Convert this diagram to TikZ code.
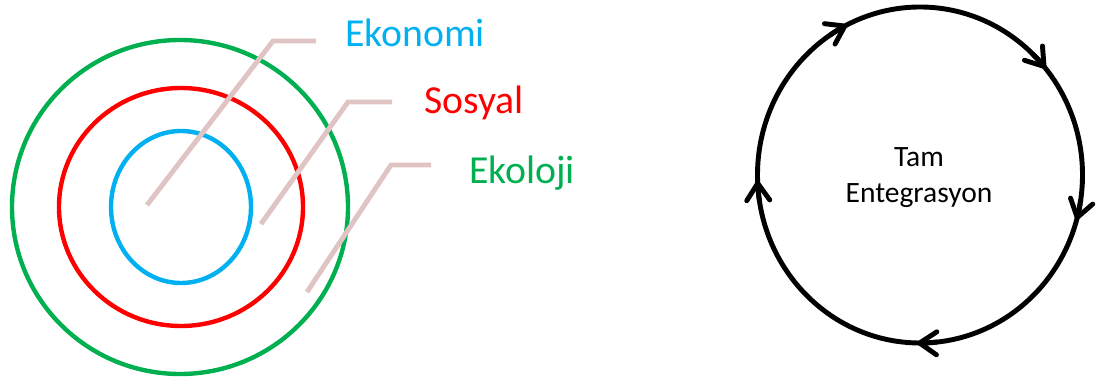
\documentclass[tikz,border=0pt]{standalone}
\usepackage{fontspec}
\setmainfont{Carlito}
\usepackage{tikz}
\usetikzlibrary{arrows.meta}

\definecolor{ekonomi}{RGB}{0,176,240}
\definecolor{sosyal}{RGB}{255,0,0}
\definecolor{ekoloji}{RGB}{0,176,80}
\definecolor{leader}{RGB}{223,196,195}

\begin{document}
\begin{tikzpicture}[x=0.02cm, y=0.02cm,
    ring/.style={line width=2.5pt},
    callout/.style={draw=leader, line width=2.8pt},
    label/.style={inner sep=0pt, anchor=base west, font=\fontsize{22.6}{26}\selectfont},
    cycle/.style={draw=black, line width=2.8pt},
    tip/.style={line width=2.8pt, -{Straight Barb[length=3.4mm, width=4.6mm, round]}}]
    \useasboundingbox (0,0) rectangle (1103,378);

    % three nested rings
    \draw[ring, ekoloji] (180,171) ellipse [x radius=168, y radius=167];
    \draw[ring, sosyal] (181,171) ellipse [x radius=122, y radius=119];
    \draw[ring, ekonomi] (181,171) ellipse [x radius=70, y radius=76];

    \coordinate (e1) at (147,173);
    \coordinate (e2) at (273,337);
    \coordinate (e3) at (316,337);
    \coordinate (s1) at (261,154);
    \coordinate (s2) at (348,276);
    \coordinate (s3) at (392,276);
    \coordinate (k1) at (307,86);
    \coordinate (k2) at (391,213);
    \coordinate (k3) at (431,213);
    \draw[callout] (e1) -- (e2) -- (e3);
    \draw[callout] (s1) -- (s2) -- (s3);
    \draw[callout] (k1) -- (k2) -- (k3);

    \node[label, text=ekonomi] (ekonomi) at (345,331) {Ekonomi};
    \node[label, text=sosyal] (sosyal) at (424,264) {Sosyal};
    \node[label, text=ekoloji] (ekoloji) at (469,194) {Ekoloji};

    % cycle
    \node[align=center, font=\fontsize{16.8}{20.5}\selectfont] (tam) at (919,200)
        {Tam\\Entegrasyon};
    \draw[cycle] (920,203) ellipse [x radius=162.5, y radius=168];
    \foreach \a in {116.7, 39.4, -15.5, -91, 182}
        \draw[tip] (920,203) ++(\a+7:162.5 and 168)
            arc [start angle=\a+7, end angle=\a, x radius=162.5, y radius=168];

\end{tikzpicture}
\end{document}
